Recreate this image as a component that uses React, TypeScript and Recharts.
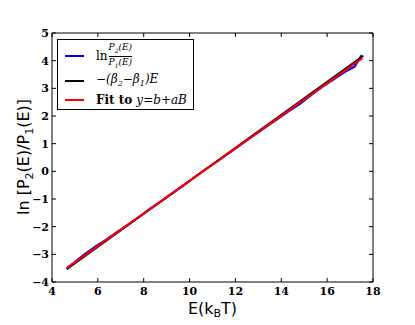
import React from 'react';
import { LineChart, Line, XAxis, YAxis, Legend } from 'recharts';

// measured ln(P2/P1) curve
const energies = [4.65, 5.0, 5.4, 5.9, 6.3, 6.8, 7.3, 7.8, 8.3, 8.8, 9.3, 9.8, 10.3, 10.8, 11.3, 11.8, 12.3, 12.8, 13.3, 13.8, 14.3, 14.8, 15.3, 15.8, 16.3, 16.8, 17.2, 17.5];
const lnRatio = [-3.5, -3.27, -3.01, -2.71, -2.5, -2.21, -1.93, -1.64, -1.34, -1.06, -0.76, -0.47, -0.16, 0.13, 0.41, 0.71, 1.0, 1.3, 1.59, 1.87, 2.16, 2.43, 2.75, 3.06, 3.33, 3.6, 3.78, 4.2];

// -(beta2 - beta1) E
const theoryX = [4.64, 17.58];
const theoryY = [-3.54, 4.18];

// fit y = b + aB
const fitX = [4.64, 17.54];
const fitY = [-3.5, 4.09];

const xTicks = [4, 6, 8, 10, 12, 14, 16, 18];
const yTicks = [-4, -3, -2, -1, 0, 1, 2, 3, 4, 5];

const measured = energies.map((e, i) => ({ x: e, y: lnRatio[i] }));
const theory = theoryX.map((e, i) => ({ x: e, y: theoryY[i] }));
const fit = fitX.map((e, i) => ({ x: e, y: fitY[i] }));

const tickFont = { fontFamily: '"DejaVu Serif", serif', fontWeight: 'bold' as const, fontSize: 11, fill: '#000' };

const BottomTick = (props: any) => {
  const { x, y, payload } = props;
  return (
    <g>
      <line x1={x} y1={y} x2={x} y2={y - 4} stroke="#000" strokeWidth={1} />
      <text x={x} y={y + 13} textAnchor="middle" style={tickFont}>{payload.value}</text>
    </g>
  );
};

const LeftTick = (props: any) => {
  const { x, y, payload } = props;
  const label = payload.value < 0 ? '\u2212' + Math.abs(payload.value) : String(payload.value);
  return (
    <g>
      <line x1={x} y1={y} x2={x + 4} y2={y} stroke="#000" strokeWidth={1} />
      <text x={x - 3} y={y + 4} textAnchor="end" style={tickFont}>{label}</text>
    </g>
  );
};

const TopTick = (props: any) => {
  const { x, y } = props;
  return <line x1={x} y1={y} x2={x} y2={y + 4} stroke="#000" strokeWidth={1} />;
};

const RightTick = (props: any) => {
  const { x, y } = props;
  return <line x1={x} y1={y} x2={x - 4} y2={y} stroke="#000" strokeWidth={1} />;
};

const XLabel = (props: any) => {
  const { viewBox } = props;
  const cx = viewBox.x + viewBox.width / 2;
  return (
    <text x={cx} y={viewBox.y + 32} textAnchor="middle" style={{ fontFamily: '"DejaVu Sans", sans-serif', fontSize: 16, fill: '#000' }}>
      E(k<tspan fontSize={11} dy={3}>B</tspan><tspan dy={-3}>T)</tspan>
    </text>
  );
};

const serif = '"DejaVu Serif", serif';

const LegendBox = () => {
  const row = { display: 'flex', alignItems: 'center', height: 20 };
  const swatch = (c: string) => (
    <div style={{ width: 19, height: 0, borderTop: `2px solid ${c}`, marginLeft: 7, marginRight: 12 }} />
  );
  return (
    <div style={{ border: '1px solid #000', background: '#fff', width: 137, height: 71, padding: '1px 0', boxSizing: 'border-box', fontFamily: serif, fontSize: 12, color: '#000', textAlign: 'left' }}>
      <div style={{ ...row, height: 30 }}>
        {swatch('#0000ff')}
        <span style={{ fontSize: 12 }}>ln</span>
        <span style={{ display: 'inline-flex', flexDirection: 'column', alignItems: 'center', fontSize: 9, fontStyle: 'italic', marginLeft: 1, lineHeight: '11px' }}>
          <span>P<sub style={{ fontSize: 6 }}>2</sub>(E)</span>
          <span style={{ borderTop: '1px solid #000', width: '100%', textAlign: 'center' }}>P<sub style={{ fontSize: 6 }}>1</sub>(E)</span>
        </span>
      </div>
      <div style={{ ...row, height: 19 }}>
        {swatch('#000')}
        <span style={{ fontStyle: 'italic' }}>{'\u2212'}(β<sub style={{ fontSize: 8 }}>2</sub>{'\u2212'}β<sub style={{ fontSize: 8 }}>1</sub>)E</span>
      </div>
      <div style={{ ...row, height: 19 }}>
        {swatch('#ff0000')}
        <span style={{ fontWeight: 'bold' }}>Fit to</span>
        <span style={{ fontStyle: 'italic', marginLeft: 4 }}>y=b+aB</span>
      </div>
    </div>
  );
};

const App: React.FC = () => {
  return (
    <div style={{ position: 'absolute', left: 0, top: 0, width: 415, height: 325, background: '#fff' }}>
      <LineChart width={415} height={325} margin={{ top: 32, right: 41, left: 0, bottom: 0 }}>
        <XAxis xAxisId="b" type="number" dataKey="x" domain={[4, 18]} ticks={xTicks} interval={0} tickSize={0} tickMargin={0}
          tick={<BottomTick />} height={43} stroke="#000" allowDataOverflow label={<XLabel />} />
        <XAxis xAxisId="t" orientation="top" type="number" dataKey="x" domain={[4, 18]} ticks={xTicks} interval={0} tickSize={0} tickMargin={0}
          tick={<TopTick />} height={1} stroke="#000" allowDataOverflow />
        <YAxis yAxisId="l" type="number" dataKey="y" domain={[-4, 5]} ticks={yTicks} interval={0} tickSize={0} tickMargin={0}
          tick={<LeftTick />} width={52} stroke="#000" allowDataOverflow />
        <YAxis yAxisId="r" orientation="right" type="number" dataKey="y" domain={[-4, 5]} ticks={yTicks} interval={0} tickSize={0} tickMargin={0}
          tick={<RightTick />} width={1} stroke="#000" allowDataOverflow />
        <Legend content={<LegendBox />} layout="vertical" align="center" verticalAlign="middle"
          wrapperStyle={{ position: 'absolute', left: 57, top: 39, width: 'auto', height: 'auto' }} />
        <Line xAxisId="b" yAxisId="l" data={measured} dataKey="y" stroke="#0000ff" strokeWidth={2} dot={false} isAnimationActive={false} />
        <Line xAxisId="b" yAxisId="l" data={theory} dataKey="y" stroke="#000" strokeWidth={2} dot={false} isAnimationActive={false} />
        <Line xAxisId="b" yAxisId="l" data={fit} dataKey="y" stroke="#ff0000" strokeWidth={2} dot={false} isAnimationActive={false} />
      </LineChart>
      <div style={{ position: 'absolute', left: 25, top: 157, transform: 'translate(-50%, -50%) rotate(-90deg)', whiteSpace: 'nowrap', fontFamily: '"DejaVu Sans", sans-serif', fontSize: 16 }}>
        ln [P<sub style={{ fontSize: 11 }}>2</sub>(E)/P<sub style={{ fontSize: 11 }}>1</sub>(E)]
      </div>
    </div>
  );
};

export default App;
